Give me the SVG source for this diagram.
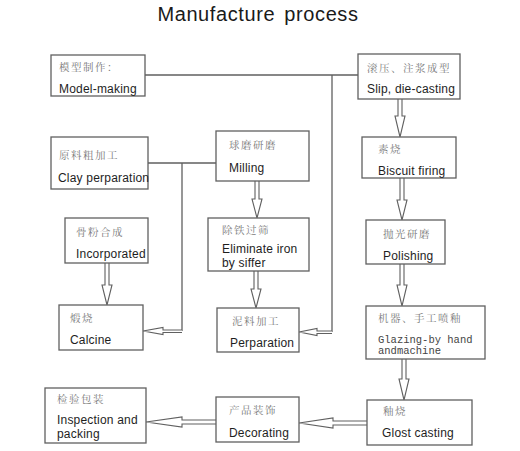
<svg xmlns="http://www.w3.org/2000/svg" width="520" height="451" viewBox="0 0 520 451">
<style>
.box{fill:#fff;stroke:#606060;stroke-width:1.3}
.ln{fill:none;stroke:#606060;stroke-width:1.3}
.ar{fill:#fff;stroke:#606060;stroke-width:1.1;stroke-linejoin:miter}
.en{font-family:"Liberation Sans",Arial,sans-serif;font-size:12px;fill:#1e1e1e;letter-spacing:0.2px}
.zh{font-family:"Noto Serif CJK SC","Noto Sans CJK SC",serif;font-size:10.5px;fill:#7a7a7a;letter-spacing:1.5px}
.mono{font-family:"Liberation Mono",monospace;font-size:10.5px;fill:#444}
.title{font-family:"Liberation Sans",Arial,sans-serif;font-size:20px;fill:#1a1a1a;letter-spacing:0.6px;word-spacing:3px}
</style>
<rect width="520" height="451" fill="#fff"/>
<text class="title" x="258" y="21" text-anchor="middle">Manufacture process</text>

<g id="connectors">
  <path class="ln" d="M145,75 H358 M332,75 V332 M148,163 H216 M182,163 V331"/>
  <path class="ar" d="M398,99 V116 H395 L400,137 L405,116 H402 V99"/>
  <path class="ar" d="M400,178 V200 H397 L402,220 L407,200 H404 V178"/>
  <path class="ar" d="M400,264 V285 H397 L402,306 L407,285 H404 V264"/>
  <path class="ar" d="M402,359 V379 H399 L404,400 L409,379 H406 V359"/>
  <path class="ar" d="M255,181 V199 H252 L257,218 L262,199 H259 V181"/>
  <path class="ar" d="M254,271 V289 H251 L256,308 L261,289 H258 V271"/>
  <path class="ar" d="M105,263 V285 H102 L107,305 L112,285 H109 V263"/>
  <path class="ar" d="M182,330 H163 V327.5 L143,331 L163,334.5 V332.5 H182"/>
  <path class="ar" d="M332,331 H317 V328.5 L299,332 L317,335.5 V333.5 H332"/>
  <path class="ar" d="M367,421 H333 V418 L299,423 L333,428 V425 H367"/>
  <path class="ar" d="M216,420 H182 V417 L146,422 L182,427 V424 H216"/>
</g>

<g id="model">
  <rect class="box" x="51" y="55" width="94" height="41"/>
  <text class="zh" x="59" y="71">模型制作：</text>
  <text class="en" x="59" y="93">Model-making</text>
</g>
<g id="slip">
  <rect class="box" x="358" y="54" width="102" height="45"/>
  <text class="zh" x="367" y="72">滚压、注浆成型</text>
  <text class="en" x="367" y="93">Slip, die-casting</text>
</g>
<g id="clay">
  <rect class="box" x="51" y="137" width="97" height="52"/>
  <text class="zh" x="59" y="159">原料粗加工</text>
  <text class="en" x="58" y="182">Clay perparation</text>
</g>
<g id="milling">
  <rect class="box" x="216" y="131" width="93" height="50"/>
  <text class="zh" x="229" y="149">球磨研磨</text>
  <text class="en" x="229" y="172">Milling</text>
</g>
<g id="biscuit">
  <rect class="box" x="362" y="137" width="94" height="41"/>
  <text class="zh" x="378" y="153">素烧</text>
  <text class="en" x="378" y="175">Biscuit firing</text>
</g>
<g id="incorporated">
  <rect class="box" x="65" y="218" width="83" height="45"/>
  <text class="zh" x="76" y="236">骨粉合成</text>
  <text class="en" x="76" y="258">Incorporated</text>
</g>
<g id="eliminate">
  <rect class="box" x="208" y="218" width="101" height="53"/>
  <text class="zh" x="222" y="234">除铁过筛</text>
  <text class="en" x="222" y="253">Eliminate iron</text>
  <text class="en" x="222" y="267">by siffer</text>
</g>
<g id="polishing">
  <rect class="box" x="366" y="220" width="79" height="44"/>
  <text class="zh" x="383" y="238">抛光研磨</text>
  <text class="en" x="383" y="260">Polishing</text>
</g>
<g id="calcine">
  <rect class="box" x="59" y="305" width="84" height="45"/>
  <text class="zh" x="70" y="322">煅烧</text>
  <text class="en" x="70" y="344">Calcine</text>
</g>
<g id="perparation">
  <rect class="box" x="217" y="308" width="82" height="44"/>
  <text class="zh" x="232" y="325">泥料加工</text>
  <text class="en" x="230" y="347">Perparation</text>
</g>
<g id="glazing">
  <rect class="box" x="366" y="306" width="119" height="53"/>
  <text class="zh" x="378" y="322">机器、手工喷釉</text>
  <text class="mono" x="378" y="343">Glazing-by hand</text>
  <text class="mono" x="378" y="354">andmachine</text>
</g>
<g id="inspection">
  <rect class="box" x="45" y="388" width="101" height="55"/>
  <text class="zh" x="57" y="403">检验包装</text>
  <text class="en" x="57" y="424">Inspection and</text>
  <text class="en" x="57" y="438">packing</text>
</g>
<g id="decorating">
  <rect class="box" x="216" y="397" width="83" height="45"/>
  <text class="zh" x="229" y="414">产品装饰</text>
  <text class="en" x="229" y="437">Decorating</text>
</g>
<g id="glost">
  <rect class="box" x="367" y="400" width="105" height="45"/>
  <text class="zh" x="383" y="415">釉烧</text>
  <text class="en" x="382" y="437">Glost casting</text>
</g>
</svg>
